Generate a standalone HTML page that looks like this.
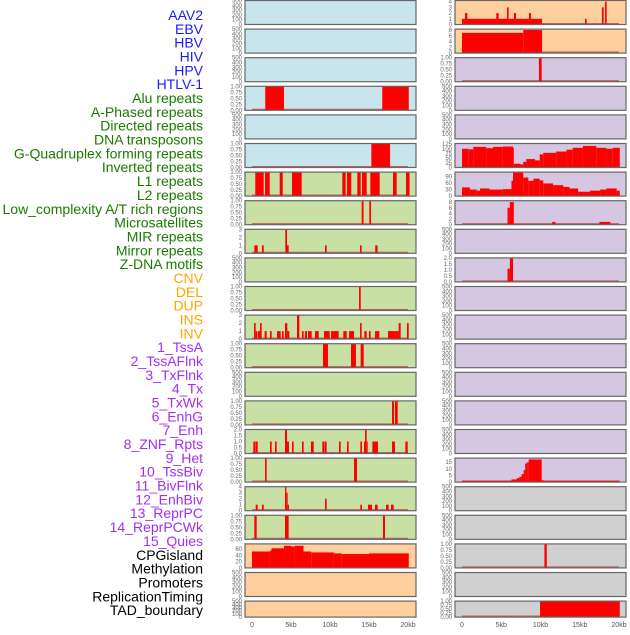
<!DOCTYPE html>
<html><head><meta charset="utf-8"><style>
body{margin:0;background:#fff;width:630px;height:630px;overflow:hidden}
svg text{font-family:"Liberation Sans",sans-serif}
</style></head><body>
<svg id="c" width="630" height="630" xmlns="http://www.w3.org/2000/svg"></svg>
<script>
const labels=["AAV2","EBV","HBV","HIV","HPV","HTLV-1","Alu repeats","A-Phased repeats","Directed repeats","DNA transposons","G-Quadruplex forming repeats","Inverted repeats","L1 repeats","L2 repeats","Low_complexity A/T rich regions","Microsatellites","MIR repeats","Mirror repeats","Z-DNA motifs","CNV","DEL","DUP","INS","INV","1_TssA","2_TssAFlnk","3_TxFlnk","4_Tx","5_TxWk","6_EnhG","7_Enh","8_ZNF_Rpts","9_Het","10_TssBiv","11_BivFlnk","12_EnhBiv","13_ReprPC","14_ReprPCWk","15_Quies","CPGisland","Methylation","Promoters","ReplicationTiming","TAD_boundary"];
const labelGroups=[6,13,5,15,5];
const groupColors=["#1a1aff","#1a7a00","#ffa500","#a030f0","#000"];
const xTicks=[0,5,10,15,20];
const xTickLabels=["0","5kb","10kb","15kb","20kb"];
// Left column panels (rows 0..21)
const leftBg=["b","b","b","b","b","b","g","g","g","g","g","g","g","g","g","g","g","g","g","o","o","o"];
const leftYmax=[500,500,500,1,500,1,1,1,3,500,1,3,1,500,1,2,1,4,1,76,500,500];
const leftSegs=[[],[],[],
[[1.7,4.1,1],[16.7,20.1,1]],
[],
[[15.3,17.7,1]],
[[0.42,1.5,1],[1.67,2.27,1],[3.55,3.94,1],[5.13,6.37,1],[11.58,12.01,1],[12.18,12.73,1],[13.5,13.94,1],[14.1,14.7,1],[15.17,16.37,1],[18.08,18.55,1],[19.74,20.2,1]],
[[14.06,14.3,1],[15.04,15.26,1]],
[[0.3,0.73,1],[1.28,1.5,1],[4.27,4.49,3],[4.49,4.7,1],[9.36,9.57,1],[13.85,14.06,1],[15.8,16.1,1]],
[],
[[13.72,13.94,1]],
[[0.26,0.47,2],[0.47,0.68,1],[0.77,1.03,1],[1.03,1.24,2],[1.62,1.88,1],[2.31,2.52,1],[3.21,3.68,1],[3.85,4.06,1],[4.23,4.53,2],[4.53,4.79,1],[5.77,6.07,3],[6.41,6.62,1],[6.79,7.05,1],[7.18,7.65,1],[8.08,8.55,1],[9.23,9.96,1],[10.13,11.11,1],[11.71,12.14,1],[12.44,13.08,1],[13.85,14.06,2],[14.4,14.7,1],[15.0,15.21,1],[15.77,16.32,1],[17.44,18.38,1],[18.38,18.8,1],[18.8,19.06,2],[19.87,20.09,2]],
[[9.1,9.74,1],[12.69,13.33,1],[13.93,14.32,1]],
[],
[[17.95,18.2,1],[18.33,18.68,1]],
[[0.17,0.43,1],[0.47,0.73,1],[2.31,2.52,1],[2.95,3.16,1],[4.23,4.49,2],[4.49,4.74,1],[5.13,5.34,1],[6.41,6.62,1],[7.56,7.91,1],[9.02,9.27,1],[9.32,9.57,1],[11.15,11.37,1],[12.18,12.39,1],[13.89,14.1,1],[14.36,14.49,1],[14.49,14.7,2],[14.7,14.83,1],[15.43,16.15,1],[17.95,18.33,1],[19.66,19.96,1]],
[[1.67,1.88,1],[13.08,13.46,1]],
[[0.47,0.73,1],[1.28,1.5,1],[4.23,4.4,4],[4.4,4.57,3],[4.57,4.74,1],[9.36,9.57,2],[13.89,14.1,1],[14.87,15.38,1],[15.77,16.11,1],[17.18,17.52,1],[17.82,18.16,1]],
[[0.3,0.6,1],[4.23,4.7,1],[16.79,17.05,1]],
[[0,2.3,52],[2.3,2.5,55],[2.5,4.1,62],[4.1,5,70],[5,5.5,68],[5.5,6.6,70],[6.6,7.6,52],[7.6,10.5,49],[10.5,11.5,46],[11.5,15,44],[15,20.1,46]],
[],[]];
// Right column panels
const rightBg=["o","o","p","p","p","p","p","p","p","p","p","p","p","p","p","p","p","y","y","y","y","y"];
const rightYmax=[4.2,8.3,1,500,500,128,110,8.5,500,2,500,500,500,500,500,500,18,500,500,1,500,1];
const rightSegs=[
[[0,10.2,1],[0.38,0.68,2],[4.37,4.67,2],[5.73,5.94,3],[6.62,6.88,2],[8.53,8.79,2],[15.67,15.88,1],[17.83,18.05,3],[18.22,18.43,4]],
[[0,7.8,7],[7.8,10.2,8]],
[[9.8,10.15,1]],
[],[],
[[0,0.8,100],[0.8,1.44,97],[1.44,3.1,110],[3.1,3.95,103],[3.95,5.2,110],[5.2,6.5,112],[6.5,6.6,105],[6.6,7.4,20],[7.4,7.8,17],[7.8,8.2,30],[8.2,9.3,45],[9.3,9.9,38],[9.9,10.35,70],[10.35,12.0,78],[12.0,13.3,85],[13.3,14.1,95],[14.1,15.4,105],[15.4,17.1,115],[17.1,18.4,105],[18.4,19.2,100],[19.2,20.1,105]],
[[0,1,40],[1,1.87,30],[1.87,2.3,25],[2.3,3.5,35],[3.5,5.2,30],[5.2,6.3,32],[6.3,6.5,70],[6.5,7.8,110],[7.8,8.45,85],[8.45,9.1,70],[9.1,9.9,80],[9.9,10.35,72],[10.35,11.6,58],[11.6,12.9,50],[12.9,13.7,42],[13.7,14.8,35],[14.8,16.3,20],[16.3,17.6,25],[17.6,18.4,30],[18.4,19.7,35],[19.7,20.1,25]],
[[5.8,6.1,6],[6.1,6.6,8],[11.5,11.9,1],[17.5,18.9,1]],
[],
[[5.8,6.1,1.1],[6.1,6.5,2]],
[],[],[],[],[],[],
[[0,6.3,1],[6.3,6.97,2],[6.97,7.3,3],[7.3,7.6,4],[7.6,7.85,6],[7.85,8.05,9],[8.05,8.3,14],[8.3,8.5,15],[8.5,10.15,17],[10.15,10.5,1.3],[10.5,20.1,1]],
[],[],
[[10.5,10.8,1]],
[],
[[9.94,20.1,1]]];

const bgc={b:"#c8e4ec",g:"#c8e0a4",o:"#ffd09e",p:"#d5c6e2",y:"#d0d0d0"};
const svg=document.getElementById('c');
const NS="http://www.w3.org/2000/svg";
function mk(tag,attrs,parent){const e=document.createElementNS(NS,tag);for(const k in attrs)e.setAttribute(k,attrs[k]);(parent||svg).appendChild(e);return e;}
// labels
let li=0;
labelGroups.forEach((n,g)=>{for(let j=0;j<n;j++){const t=mk('text',{x:203,y:15+13.84*li+5,'text-anchor':'end','font-size':14,fill:groupColors[g]});


t.textContent=labels[li];li++;}});
function ticksFor(ym){
 if(ym===500)return {v:[0,100,200,300,400,500],f:v=>String(v)};
 if(ym===1)return {v:[0,.25,.5,.75,1],f:v=>v.toFixed(2)};
 if(ym===2)return {v:[0,.5,1,1.5,2],f:v=>v.toFixed(1)};
 if(ym<=4.2)return {v:[0,1,2,3,4].filter(x=>x<=ym),f:v=>String(v)};
 if(ym<=8.5)return {v:[0,2,4,6,8],f:v=>String(v)};
 if(ym===18)return {v:[0,5,10,15],f:v=>String(v)};
 if(ym===76)return {v:[0,20,40,60],f:v=>String(v)};
 if(ym===110)return {v:[0,30,60,90],f:v=>String(v)};
 return {v:[0,25,50,75,100,125],f:v=>String(v)};
}
function panel(col,row,bg,ym,segs){
 const x0=col?455:245,w=171,x0kb=col?462:252,kbw=col?7.85:7.8;
 const top=0.5+28.6*row,h=row===21?16:24;
 const g=mk('g',{});
 
 
 mk('rect',{x:x0,y:top,width:w,height:h,fill:bgc[bg]},g);
 const xs=kb=>x0kb+kb*kbw, ys=v=>top+h-v/ym*h;
 if(segs.length){
  mk('line',{x1:xs(0),x2:xs(20),y1:top+h-0.8,y2:top+h-0.8,stroke:'#c04040','stroke-width':1.5,opacity:0.8},g);
  segs.forEach(s=>{const r=mk('rect',{x:xs(s[0]),y:ys(s[2]),width:Math.max(0.8,xs(s[1])-xs(s[0])),height:top+h-ys(s[2]),fill:'#ff0000'},g);
   
   });
 }
 mk('rect',{x:x0,y:top,width:w,height:h,fill:'none',stroke:'#666','stroke-width':1.2},g);
 const tk=ticksFor(ym);
 tk.v.forEach(v=>{const t=mk('text',{x:x0-3,y:ys(v)+2,'text-anchor':'end','font-size':6,fill:'#666'},g);t.textContent=tk.f(v);});
 if(row===21){xTicks.forEach((v,i)=>{const t=mk('text',{x:xs(v),y:627,'text-anchor':'middle','font-size':7,fill:'#555'});
  
  
  t.textContent=xTickLabels[i];});}
}
for(let r=0;r<22;r++){panel(0,r,leftBg[r],leftYmax[r],leftSegs[r]);panel(1,r,rightBg[r],rightYmax[r],rightSegs[r]);}
</script>
</body></html>
